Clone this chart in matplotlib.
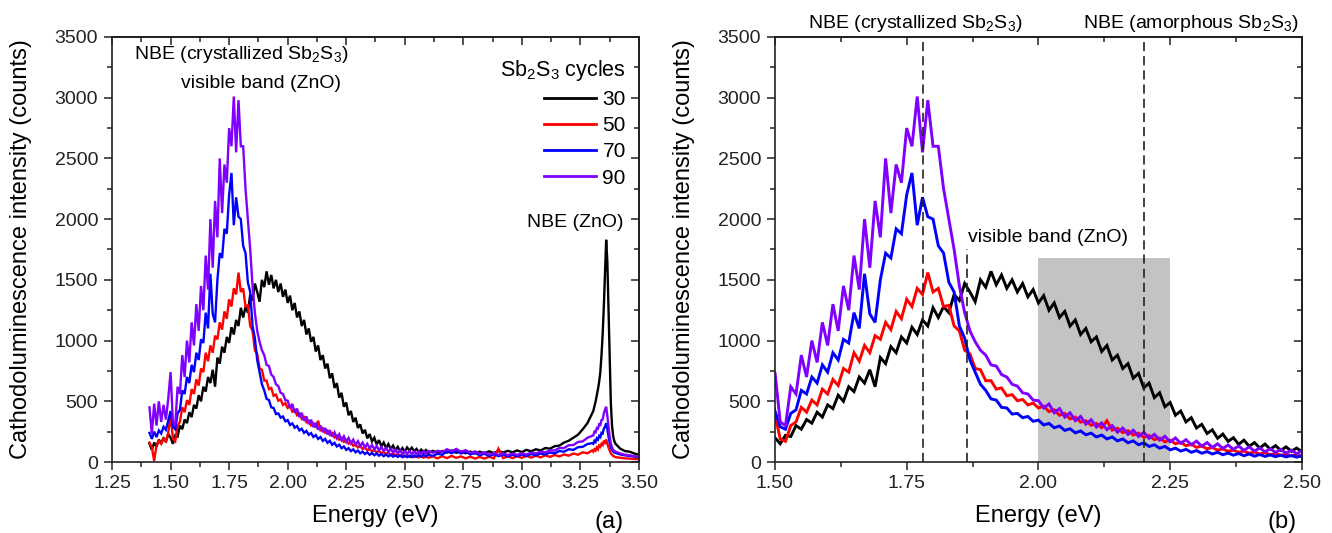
import numpy as np
import matplotlib
matplotlib.use("Agg")
import matplotlib.pyplot as plt
from matplotlib.ticker import MultipleLocator, FormatStrFormatter, NullFormatter
from matplotlib.lines import Line2D

plt.rcParams['font.family'] = ['Liberation Sans', 'DejaVu Sans']
plt.rcParams['mathtext.fontset'] = 'custom'
plt.rcParams['mathtext.rm'] = 'Liberation Sans'
plt.rcParams['mathtext.it'] = 'Liberation Sans:italic'
plt.rcParams['mathtext.bf'] = 'Liberation Sans:bold'

# ---------------- data ----------------
energy_1 = [1.41, 1.42, 1.43, 1.44, 1.45, 1.46, 1.47, 1.48, 1.49, 1.50,
            1.51, 1.52, 1.53, 1.54, 1.55, 1.56, 1.57, 1.58, 1.59, 1.60,
            1.61, 1.62, 1.63, 1.64, 1.65, 1.66, 1.67, 1.68, 1.69, 1.70,
            1.71, 1.72, 1.73, 1.74, 1.75, 1.76, 1.77, 1.78, 1.79, 1.80,
            1.81, 1.82, 1.83, 1.84, 1.85, 1.86, 1.87, 1.88, 1.89, 1.90,
            1.91, 1.92, 1.93, 1.94, 1.95, 1.96, 1.97, 1.98, 1.99, 2.00,
            2.01, 2.02, 2.03, 2.04, 2.05, 2.06, 2.07, 2.08, 2.09, 2.10,
            2.11, 2.12, 2.13, 2.14, 2.15, 2.16, 2.17, 2.18, 2.19, 2.20,
            2.21, 2.22, 2.23, 2.24, 2.25, 2.26, 2.27, 2.28, 2.29, 2.30,
            2.31, 2.32, 2.33, 2.34, 2.35, 2.36, 2.37, 2.38, 2.39, 2.40,
            2.41, 2.42, 2.43, 2.44, 2.45, 2.46, 2.47, 2.48, 2.49, 2.50,
            2.51, 2.52, 2.53, 2.54, 2.55, 2.56, 2.57, 2.58, 2.59, 2.60]
energy_2 = [2.62, 2.64, 2.66, 2.68, 2.70, 2.72, 2.74, 2.76, 2.78, 2.80,
            2.82, 2.84, 2.86, 2.88, 2.90, 2.92, 2.94, 2.96, 2.98, 3.00,
            3.02, 3.04, 3.06, 3.08, 3.10, 3.12, 3.14, 3.16, 3.18, 3.20,
            3.22, 3.24, 3.26, 3.28, 3.30]
energy_3 = [3.305, 3.310, 3.315, 3.320, 3.325, 3.330, 3.335, 3.340, 3.345, 3.350,
            3.355, 3.360, 3.365, 3.370, 3.375, 3.380, 3.385, 3.390, 3.395, 3.400]
energy_4 = [3.42, 3.44, 3.46, 3.48, 3.50]

cl_30 = [150, 100, 160, 125, 185, 150, 200, 165, 230, 200,
         150, 220, 210, 300, 270, 350, 320, 410, 370, 470,
         440, 550, 500, 620, 580, 700, 650, 760, 620, 860,
         810, 950, 900, 1030, 980, 1110, 1050, 1170, 1120, 1270,
         1190, 1280, 1230, 1380, 1330, 1470, 1400, 1320, 1500, 1440,
         1570, 1460, 1540, 1430, 1500, 1400, 1470, 1360, 1420, 1310,
         1370, 1250, 1310, 1190, 1240, 1120, 1170, 1050, 1100, 990,
         1030, 910, 960, 840, 880, 770, 810, 690, 730, 610,
         650, 530, 570, 455, 490, 385, 420, 330, 365, 280,
         310, 235, 265, 195, 230, 170, 200, 145, 180, 130,
         160, 115, 148, 105, 135, 95, 125, 88, 115, 85,
         120, 95, 118, 88, 108, 80, 102, 76, 98, 74,
         92, 75, 90, 78, 95, 76, 88, 72, 86, 70,
         85, 72, 88, 74, 90, 78, 92, 80, 95, 82,
         100, 88, 105, 95, 115, 110, 130, 135, 160, 175,
         200, 225, 270, 320, 400,
         420, 460, 500, 550, 600, 660, 740, 880, 1050, 1280,
         1550, 1830, 1650, 1250, 820, 480, 300, 210, 170, 150,
         110, 90, 85, 70, 60]

cl_50 = [160, 120, 10, 140, 175, 150, 195, 170, 240, 390,
         190, 170, 300, 330, 450, 410, 510, 470, 600, 560,
         680, 630, 770, 740, 900, 830, 960, 900, 1040, 1010,
         1150, 1090, 1240, 1180, 1340, 1280, 1430, 1380, 1560, 1400,
         1430, 1280, 1290, 1120, 1080, 920, 890, 770, 760, 670,
         670, 600, 610, 545, 555, 505, 515, 470, 485, 445,
         460, 415, 430, 385, 400, 355, 370, 328, 340, 302,
         318, 282, 340, 262, 278, 242, 258, 222, 238, 203,
         218, 184, 198, 166, 180, 150, 162, 134, 146, 120,
         132, 108, 120, 97, 108, 88, 98, 80, 90, 72,
         82, 66, 76, 60, 70, 55, 65, 50, 60, 46,
         56, 42, 52, 40, 50, 38, 48, 36, 46, 35,
         45, 30, 48, 32, 50, 34, 46, 30, 44, 28,
         42, 28, 44, 30, 110, 32, 46, 32, 48, 34,
         50, 36, 52, 38, 55, 42, 58, 46, 62, 52,
         70, 60, 80, 72, 95,
         85, 105, 95, 120, 105, 135, 125, 150, 140, 175,
         160, 185, 150, 120, 95, 70, 60, 50, 45, 40,
         35, 30, 28, 25, 22]

cl_70 = [240, 190, 250, 205, 260, 235, 290, 265, 340, 420,
         290, 270, 400, 430, 590, 560, 700, 650, 800, 740,
         900, 840, 1010, 980, 1230, 1100, 1550, 1220, 1150, 1500,
         1720, 1680, 1920, 1880, 2200, 2380, 1950, 2180, 2020, 2000,
         1780, 1720, 1480, 1400, 1120, 1020, 840, 740, 640, 590,
         520, 510, 450, 445, 395, 400, 365, 375, 335, 345,
         305, 318, 282, 296, 260, 274, 240, 256, 224, 238,
         206, 222, 190, 206, 174, 190, 158, 174, 142, 158,
         128, 142, 114, 128, 100, 114, 90, 104, 80, 94,
         72, 86, 66, 80, 60, 74, 56, 70, 52, 66,
         48, 62, 46, 58, 44, 56, 42, 54, 40, 52,
         40, 52, 40, 54, 42, 56, 44, 58, 46, 60,
         50, 68, 60, 88, 72, 92, 70, 85, 62, 75,
         55, 68, 50, 64, 48, 62, 46, 60, 48, 62,
         50, 66, 55, 70, 62, 78, 72, 90, 85, 105,
         100, 122, 125, 148, 155,
         150, 175, 165, 195, 185, 215, 205, 240, 235, 275,
         290, 320, 270, 210, 160, 120, 100, 85, 78, 75,
         62, 55, 50, 45, 40]

cl_90 = [450, 230, 480, 300, 500, 330, 470, 350, 520, 740,
         330, 300, 620, 560, 880, 700, 1000, 820, 1150, 960,
         1300, 1080, 1450, 1250, 1700, 1420, 2000, 1600, 2150, 1850,
         2500, 2050, 2450, 2300, 2750, 2600, 3010, 2550, 2980, 2600,
         2600, 2250, 2000, 1750, 1450, 1230, 1080, 990, 920, 880,
         800, 790, 720, 700, 640, 625, 570, 560, 510, 505,
         445, 478, 405, 440, 370, 405, 340, 375, 312, 348,
         288, 322, 266, 300, 246, 280, 228, 262, 210, 244,
         195, 228, 180, 212, 166, 198, 154, 184, 142, 172,
         130, 160, 120, 150, 112, 140, 104, 132, 96, 124,
         90, 116, 84, 110, 78, 104, 72, 98, 68, 92,
         66, 90, 64, 88, 64, 88, 66, 90, 68, 92,
         76, 92, 82, 105, 88, 108, 84, 98, 74, 88,
         66, 80, 60, 74, 58, 72, 56, 70, 58, 72,
         62, 78, 70, 86, 80, 96, 95, 115, 115, 138,
         140, 165, 170, 200, 215,
         220, 250, 245, 280, 275, 310, 305, 345, 350, 400,
         430, 455, 380, 290, 210, 150, 120, 100, 90, 85,
         70, 60, 55, 48, 42]

cycles = ['30', '50', '70', '90']
colors = ['#000000', '#ff0000', '#0000ff', '#8000ff']

nbe_cryst = 1.78        # eV, dashed line
nbe_amorph = 2.20       # eV, dashed line
vis_band = 1.865        # eV, short dashed line
vis_band_top = 1750     # counts
box_range = (2.00, 2.25)
box_top = 1680

energy = np.array(energy_1 + energy_2 + energy_3 + energy_4)
series = [np.array(s, dtype=float) for s in (cl_30, cl_50, cl_70, cl_90)]

# ---------------- figure ----------------
fig = plt.figure(figsize=(13.32, 5.33), dpi=100)
axA = fig.add_axes([0.0841, 0.1332, 0.3956, 0.7974])
axB = fig.add_axes([0.5818, 0.1332, 0.3956, 0.7974])

FS_TICK = 14
FS_LAB = 17


def style(ax, xmin, xmax):
    ax.set_xlim(xmin, xmax)
    ax.set_ylim(0, 3500)
    ax.xaxis.set_major_locator(MultipleLocator(0.25))
    ax.xaxis.set_minor_locator(MultipleLocator(0.125))
    ax.yaxis.set_major_locator(MultipleLocator(500))
    ax.yaxis.set_minor_locator(MultipleLocator(250))
    ax.xaxis.set_major_formatter(FormatStrFormatter('%.2f'))
    ax.tick_params(which='both', direction='out', top=False, right=False,
                   labelsize=FS_TICK, width=1.1, colors='#222222', labelcolor='#222222')
    ax.tick_params(which='major', length=6)
    ax.tick_params(which='minor', length=3.5)
    ax.tick_params(axis='x', pad=3)
    ax.tick_params(axis='y', pad=4)
    for s in ax.spines.values():
        s.set_linewidth(1.2)
        s.set_color('#222222')
    sx = ax.secondary_xaxis('top')
    sx.xaxis.set_major_locator(MultipleLocator(0.25))
    sx.xaxis.set_minor_locator(MultipleLocator(0.125))
    sx.xaxis.set_major_formatter(NullFormatter())
    sx.tick_params(which='both', direction='in', width=1.1, colors='#222222')
    sx.tick_params(which='major', length=6)
    sx.tick_params(which='minor', length=3.5)
    sx.spines['top'].set_linewidth(1.2)
    sy = ax.secondary_yaxis('right')
    sy.yaxis.set_major_locator(MultipleLocator(500))
    sy.yaxis.set_minor_locator(MultipleLocator(250))
    sy.yaxis.set_major_formatter(NullFormatter())
    sy.tick_params(which='both', direction='in', width=1.1, colors='#222222')
    sy.tick_params(which='major', length=6)
    sy.tick_params(which='minor', length=3.5)
    sy.spines['right'].set_linewidth(1.2)
    ax.set_xlabel('Energy (eV)', fontsize=FS_LAB)
    ax.set_ylabel('Cathodoluminescence intensity (counts)', fontsize=FS_LAB)
    ax.xaxis.set_label_coords(0.5, -0.10)
    ax.yaxis.set_label_coords(-0.152, 0.5)


for ax, lw in ((axA, 1.7), (axB, 2.1)):
    for y, c, lab in zip(series, colors, cycles):
        ax.plot(energy, y, color=c, lw=lw, label=lab, zorder=2,
                solid_joinstyle='miter')

style(axA, 1.25, 3.50)
style(axB, 1.50, 2.50)

# panel (a) annotations
axA.text(1.801, 3352, 'NBE (crystallized Sb$_2$S$_3$)', fontsize=14, ha='center', va='center')
axA.text(1.885, 3118, 'visible band (ZnO)', fontsize=14, ha='center', va='center')
axA.text(3.228, 1971, 'NBE (ZnO)', fontsize=14, ha='center', va='center')
axA.text(0.943, -0.141, '(a)', fontsize=FS_LAB, ha='center', va='center', transform=axA.transAxes)

handles = [Line2D([0], [0], color=c, lw=2) for c in colors]
leg = axA.legend(handles, cycles, loc='upper right', bbox_to_anchor=(0.975, 0.95),
                 frameon=False, fontsize=15, title='Sb$_2$S$_3$ cycles',
                 title_fontsize=15.5, handlelength=2.5, handletextpad=0.3,
                 labelspacing=0.34, borderaxespad=0, borderpad=0, alignment='right')

# panel (b) annotations
axB.axvspan(box_range[0], box_range[1], ymin=0, ymax=box_top / 3500.0,
            color='#c3c3c3', lw=0, zorder=0)
dash_kw = dict(color='#222222', lw=1.2, dashes=(5.5, 3), zorder=5)
axB.plot([nbe_cryst, nbe_cryst], [0, 3500], **dash_kw)
axB.plot([nbe_amorph, nbe_amorph], [0, 3500], **dash_kw)
axB.plot([vis_band, vis_band], [0, vis_band_top], **dash_kw)
axB.text(1.767, 3607, 'NBE (crystallized Sb$_2$S$_3$)', fontsize=14, ha='center', va='center', clip_on=False)
axB.text(2.29, 3607, 'NBE (amorphous Sb$_2$S$_3$)', fontsize=14, ha='center', va='center', clip_on=False)
axB.text(1.866, 1845, 'visible band (ZnO)', fontsize=14, ha='left', va='center')
axB.text(0.962, -0.141, '(b)', fontsize=FS_LAB, ha='center', va='center', transform=axB.transAxes)

fig.savefig('out.png', dpi=100)
